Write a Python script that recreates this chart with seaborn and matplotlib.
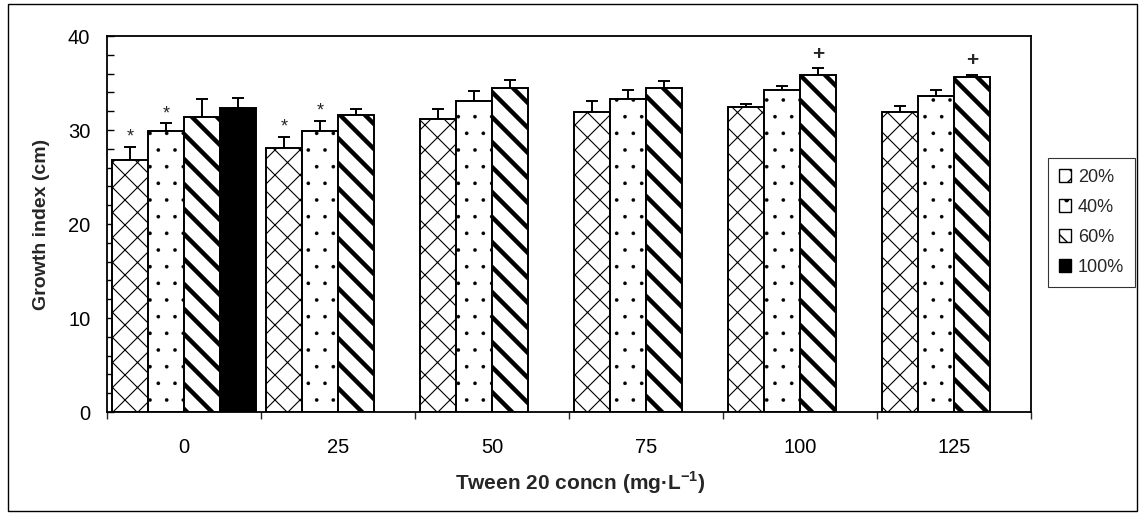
import numpy as np
import pandas as pd
import matplotlib
matplotlib.use("Agg")
import matplotlib.pyplot as plt
from matplotlib.patches import Patch, Rectangle
from matplotlib.backend_bases import GraphicsContextBase
import seaborn as sns

# ---------------- data ----------------
conc = ["0", "25", "50", "75", "100", "125"]
levels = ["20%", "40%", "60%", "100%"]
g20 = [26.8, 28.05, 31.2, 31.9, 32.4, 31.9]
g40 = [29.9, 29.9, 33.1, 33.3, 34.3, 33.6]
g60 = [31.4, 31.6, 34.5, 34.5, 35.9, 35.6]
g100 = [32.3, None, None, None, None, None]
e20 = [1.4, 1.25, 1.0, 1.2, 0.4, 0.65]
e40 = [0.8, 1.1, 1.0, 1.0, 0.4, 0.7]
e60 = [1.9, 0.65, 0.85, 0.7, 0.7, 0.3]
e100 = [1.15, None, None, None, None, None]
star_marks = [("0", "20%"), ("0", "40%"), ("25", "20%"), ("25", "40%")]
plus_marks = [("100", "60%"), ("125", "60%")]
yticks = [0, 10, 20, 30, 40]

rows = []
for lev, vals, errs in zip(levels, [g20, g40, g60, g100], [e20, e40, e60, e100]):
    for c, v, e in zip(conc, vals, errs):
        if v is not None:
            rows.append({"conc": c, "level": lev, "value": v, "err": e})
df = pd.DataFrame(rows)
err_lookup = {(r.conc, r.level): r.err for r in df.itertuples()}

# finer hatch spacing for the line patterns
_orig_hatch_path = GraphicsContextBase.get_hatch_path
def _hatch_path(self, density=6.0):
    h = self.get_hatch()
    if h in ("\\", "x"):
        density = 8.0
    return _orig_hatch_path(self, density)
GraphicsContextBase.get_hatch_path = _hatch_path

# ---------------- style ----------------
sns.set_theme(style="white")
plt.rcParams["font.family"] = ["Liberation Sans", "DejaVu Sans"]
plt.rcParams["mathtext.fontset"] = "custom"
plt.rcParams["mathtext.rm"] = "Liberation Sans"
plt.rcParams["mathtext.bf"] = "Liberation Sans:bold"
plt.rcParams["hatch.linewidth"] = 1.0

fig = plt.figure(figsize=(11.41, 5.16), dpi=100)
ax = fig.add_axes([107 / 1141, 1 - 412 / 516, (1031 - 107) / 1141, (412 - 36) / 516])

palette = {"20%": "white", "40%": "white", "60%": "white", "100%": "black"}
sns.barplot(data=df, x="conc", y="value", hue="level", order=conc, hue_order=levels,
            palette=palette, edgecolor="black", linewidth=1.4, width=0.935,
            errorbar=None, dodge=True, legend=False, ax=ax)

hatches = {"20%": "x", "40%": ".", "60%": "\\", "100%": ""}
hatch_lw = {"20%": 0.8, "40%": 0.2, "60%": 3.2, "100%": 1.0}
for lev, cont in zip(levels, ax.containers):
    for bar in cont:
        bar.set_hatch(hatches[lev])
        if hasattr(bar, "set_hatch_linewidth"):
            bar.set_hatch_linewidth(hatch_lw[lev])
        bar.set_zorder(2)

# error bars (upper only) and significance marks
tops = {}
for lev, cont in zip(levels, ax.containers):
    for bar in cont:
        xc = bar.get_x() + bar.get_width() / 2
        h = bar.get_height()
        c = conc[int(round(xc))]
        e = err_lookup[(c, lev)]
        ax.errorbar([xc], [h], yerr=[[0], [e]], fmt="none", ecolor="black",
                    elinewidth=1.4, capsize=4.3, capthick=1.4, zorder=1)
        tops[(c, lev)] = (xc, h + e)

for key in star_marks:
    xc, yt = tops[key]
    ax.annotate("*", (xc, yt), xytext=(0, 1), textcoords="offset points",
                ha="center", va="bottom", fontsize=13)
for key in plus_marks:
    xc, yt = tops[key]
    ax.annotate("+", (xc, yt), xytext=(0, 3), textcoords="offset points",
                ha="center", va="bottom", fontsize=15, fontweight="bold")

# axes
ax.set_ylim(0, 40)
ax.set_xlim(-0.5, len(conc) - 0.5)
ax.set_yticks(yticks)
ax.set_yticks(np.arange(0, 41, 2), minor=True)
ax.set_xticks(np.arange(-0.5, len(conc), 1.0), minor=True)
ax.tick_params(axis="y", which="both", direction="in", length=5, width=1.0,
               left=True, labelsize=14.5, pad=12, colors="black")
ax.tick_params(axis="x", which="major", length=0, labelsize=14.5, pad=19, colors="black")
ax.tick_params(axis="x", which="minor", direction="out", length=5, width=1.0, bottom=True)
for s in ax.spines.values():
    s.set_visible(True)
    s.set_color("black")
    s.set_linewidth(1.3)
ax.set_ylabel("Growth index (cm)", fontsize=14, fontweight="bold", labelpad=13)
ax.set_xlabel(r"Tween 20 concn (mg·L$^{\mathbf{-1}}$)", fontsize=15,
              fontweight="bold", labelpad=9)
ax.xaxis.label.set_x(0.512)

# legend
handles = [Patch(facecolor=palette[l], edgecolor="black", hatch=hatches[l], linewidth=1.0)
           for l in levels]
leg = fig.legend(handles, levels, loc="upper right",
                 bbox_to_anchor=(1135 / 1141, 1 - 158 / 516),
                 bbox_transform=fig.transFigure, frameon=True, fancybox=False,
                 edgecolor="black", fontsize=13, handlelength=0.65, handleheight=0.65,
                 handletextpad=0.4, labelspacing=0.72, borderpad=0.6, borderaxespad=0)
leg.get_frame().set_linewidth(0.8)

# outer chart border
fig.patches.append(Rectangle((8 / 1141, 1 - 511 / 516), (1137 - 8) / 1141, (511 - 4) / 516,
                             transform=fig.transFigure, fill=False, edgecolor="black",
                             linewidth=1.0))

fig.savefig("out.png", dpi=100)
